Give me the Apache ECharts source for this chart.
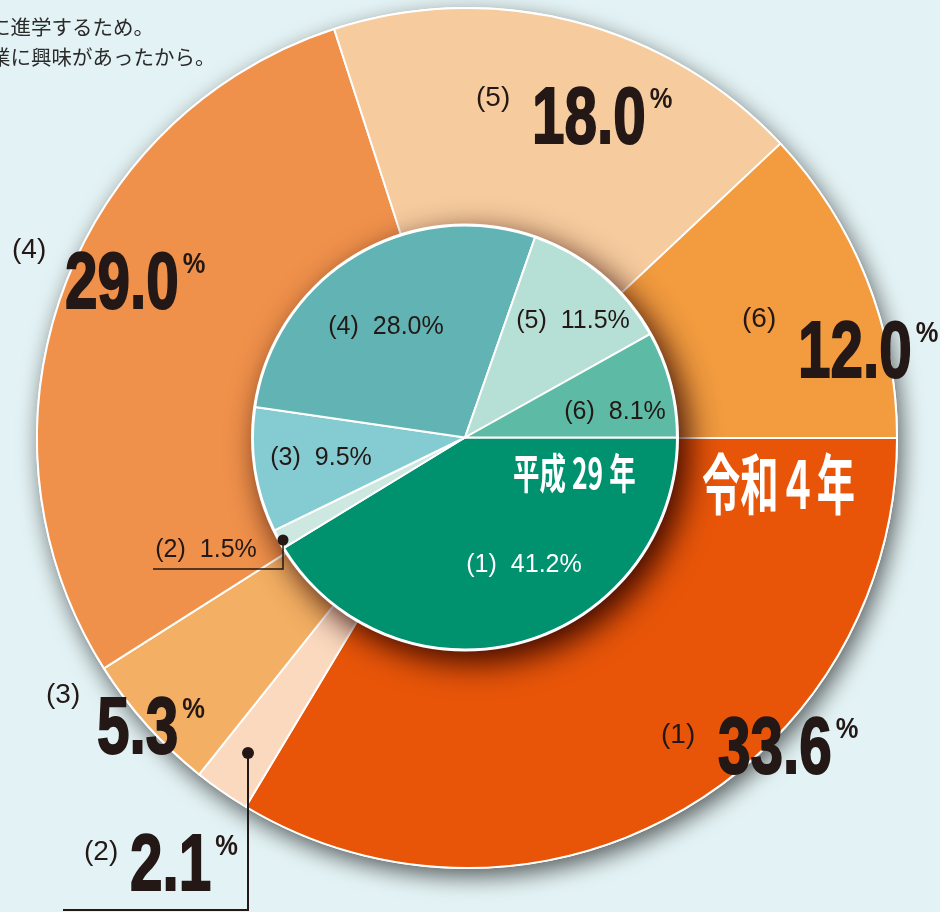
<!DOCTYPE html>
<html>
<head>
<meta charset="utf-8">
<script src="https://cdn.jsdelivr.net/npm/echarts@6/dist/echarts.min.js"></script>
<style>
  html, body { margin: 0; padding: 0; background: #e3f2f4; }
  #chart { width: 940px; height: 912px; }
</style>
</head>
<body>
<div id="chart"></div>
<script>
// 項目 (1)〜(6)
var categories = ['(1)', '(2)', '(3)', '(4)', '(5)', '(6)'];
// 令和4年（外側）
var reiwa4 = [33.6, 2.1, 5.3, 29.0, 18.0, 12.0];
// 平成29年（内側）
var heisei29 = [41.2, 1.5, 9.5, 28.0, 11.5, 8.1];

var outerColors = ['#e85509', '#fad9bf', '#f3af63', '#f0914b', '#f6cb9e', '#f29b3f'];
var innerColors = ['#00916f', '#cde7e1', '#85cbd2', '#62b3b3', '#b6dfd6', '#5dbba5'];

// 内側ラベルの位置
var innerLabelPos = [[524, 565], [206, 550], [321, 458], [386, 327], [573, 321], [615, 412]];
// 外側ラベルの位置: [括弧x, 括弧y, 数字x, 数字の中心y]
var outerLabelPos = [
    [661, 735, 718, 748],
    [84, 852, 130, 865],
    [46, 695, 97, 728],
    [12, 250, 65, 283],
    [476, 98, 532, 118],
    [742, 319, 798, 352]
];

var ink = '#231815';
var numFont = 'bold 80px "Liberation Sans", Arial, sans-serif';
var numScale = 0.73;
var ctx = document.createElement('canvas').getContext('2d');
ctx.font = numFont;

var dom = document.getElementById('chart');
var myChart = echarts.init(dom);

var outerData = [], innerData = [];
categories.forEach(function (c, i) {
    outerData.push({name: c, value: reiwa4[i], itemStyle: {color: outerColors[i]}});
    innerData.push({name: c, value: heisei29[i], itemStyle: {color: innerColors[i]}});
});

// 外側ラベル（大きな数字）
var graphics = [];
categories.forEach(function (c, i) {
    var p = outerLabelPos[i];
    var txt = reiwa4[i].toFixed(1);
    var w = ctx.measureText(txt).width * numScale;
    graphics.push({
        type: 'text', x: p[0], y: p[1], z: 100,
        style: {text: c, font: '28px "Liberation Sans", Arial, sans-serif', fill: ink,
            align: 'left', verticalAlign: 'middle'}
    });
    graphics.push({
        type: 'text', x: p[2], y: p[3] + 3, z: 100, scaleX: numScale,
        style: {text: txt, font: numFont, fill: ink, stroke: ink, lineWidth: 2,
            align: 'left', verticalAlign: 'middle'}
    });
    graphics.push({
        type: 'text', x: p[2] + w + 4, y: p[3] - 18, z: 100, scaleX: 0.85,
        style: {text: '%', font: 'bold 30px "Liberation Sans", Arial, sans-serif', fill: ink,
            align: 'left', verticalAlign: 'middle'}
    });
});
// 年のラベル
graphics.push({
    type: 'text', x: 702, y: 484, z: 100, scaleX: 0.58,
    style: {text: '令和４年', font: 'bold 66px "Noto Sans CJK JP", sans-serif', fill: '#fff',
        align: 'left', verticalAlign: 'middle'}
});
graphics.push({
    type: 'text', x: 513, y: 473, z: 100, scaleX: 0.63,
    style: {text: '平成 29 年', font: 'bold 42px "Noto Sans CJK JP", sans-serif', fill: '#fff',
        align: 'left', verticalAlign: 'middle'}
});
// 引き出し線
graphics.push({
    type: 'polyline', z: 100,
    shape: {points: [[153, 569], [283, 569], [283, 540]]},
    style: {stroke: ink, lineWidth: 1.5, fill: null}
});
graphics.push({type: 'circle', z: 100, shape: {cx: 283, cy: 540, r: 5.5}, style: {fill: ink}});
graphics.push({
    type: 'polyline', z: 100,
    shape: {points: [[63, 910], [248, 910], [248, 753]]},
    style: {stroke: ink, lineWidth: 2, fill: null}
});
graphics.push({type: 'circle', z: 100, shape: {cx: 248, cy: 753, r: 6}, style: {fill: ink}});
// 左上の見切れた文
graphics.push({
    type: 'text', x: -10, y: 27, z: 100,
    style: {text: 'に進学するため。', font: '20.5px "Noto Sans CJK JP", sans-serif', fill: '#2a2a2a',
        align: 'left', verticalAlign: 'middle'}
});
graphics.push({
    type: 'text', x: -10, y: 57, z: 100,
    style: {text: '業に興味があったから。', font: '20.5px "Noto Sans CJK JP", sans-serif', fill: '#2a2a2a',
        align: 'left', verticalAlign: 'middle'}
});

var labelFont = '"Liberation Sans", Arial, sans-serif';

var option = {
    backgroundColor: '#e3f2f4',
    animation: false,
    graphic: graphics,
    series: [
        {
            // 外側の影
            type: 'pie', silent: true, center: [467, 438], radius: [0, 431],
            label: {show: false}, labelLine: {show: false},
            itemStyle: {color: '#ffffff', shadowBlur: 22, shadowOffsetX: 4, shadowOffsetY: 8,
                shadowColor: 'rgba(0,0,0,0.6)'},
            data: [1]
        },
        {
            name: '令和4年', type: 'pie', center: [467, 438], radius: [0, 430],
            startAngle: 0, clockwise: true, avoidLabelOverlap: false,
            label: {show: false}, labelLine: {show: false},
            itemStyle: {borderColor: '#ffffff', borderWidth: 2},
            data: outerData
        },
        {
            // 内側の影
            type: 'pie', silent: true, center: [465, 437.5], radius: [0, 214],
            label: {show: false}, labelLine: {show: false},
            itemStyle: {color: '#ffffff', shadowBlur: 32, shadowOffsetX: 9, shadowOffsetY: 11,
                shadowColor: 'rgba(40,0,0,0.9)'},
            data: [1]
        },
        {
            name: '平成29年', type: 'pie', center: [465, 437.5], radius: [0, 212],
            startAngle: 0, clockwise: true, avoidLabelOverlap: false,
            itemStyle: {borderColor: '#ffffff', borderWidth: 2},
            labelLine: {show: false},
            label: {
                show: true, position: 'inside',
                formatter: function (p) {
                    var s = p.dataIndex === 0 ? 'w' : 'd';
                    return '{p' + s + '|' + p.name + '}{v' + s + '|' + p.value.toFixed(1) + '%}';
                },
                rich: {
                    pd: {fontSize: 25, fontFamily: labelFont, color: ink, padding: [0, 14, 0, 0]},
                    vd: {fontSize: 25, fontFamily: labelFont, color: ink},
                    pw: {fontSize: 25, fontFamily: labelFont, color: '#fff', padding: [0, 14, 0, 0]},
                    vw: {fontSize: 25, fontFamily: labelFont, color: '#fff'}
                }
            },
            labelLayout: function (params) {
                var p = innerLabelPos[params.dataIndex];
                return {x: p[0], y: p[1], align: 'center', verticalAlign: 'middle'};
            },
            data: innerData
        }
    ]
};
myChart.setOption(option);
</script>
</body>
</html>
